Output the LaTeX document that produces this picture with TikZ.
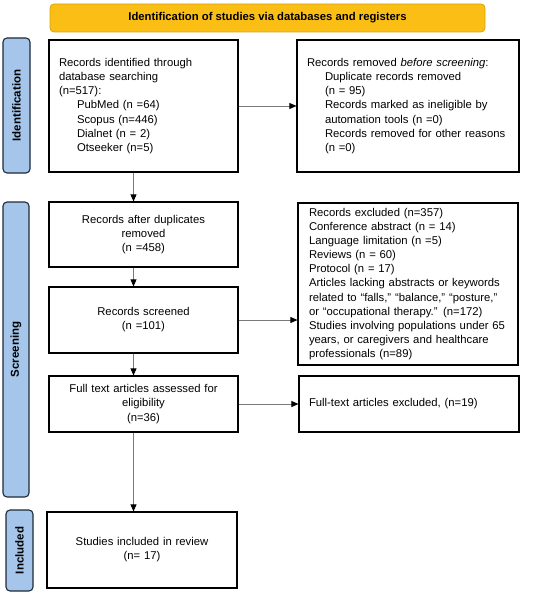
\documentclass[tikz,border=0pt]{standalone}
\usepackage{fontspec}
\setmainfont{Liberation Sans}
\usetikzlibrary{arrows.meta,calc}
\definecolor{bannerfill}{HTML}{FABE14}
\definecolor{bannerdraw}{HTML}{D9A210}
\definecolor{sidefill}{HTML}{A5C5EA}
\definecolor{sidedraw}{HTML}{1E2A38}
\definecolor{linegray}{HTML}{7A7A7A}
\begin{document}
\begin{tikzpicture}[x=1pt,y=1pt,
  box/.style={draw=black, line width=1.2pt, inner sep=0pt, font=\fontsize{11.3}{14.1}\selectfont},
  leftbox/.style={box, align=left},
  centerbox/.style={box, align=center},
  side/.style={draw=sidedraw, fill=sidefill, line width=1.1pt, rounded corners=4pt, inner sep=0pt},
  sidetext/.style={rotate=90, font=\bfseries\fontsize{11.5}{13}\selectfont},
  banner/.style={draw=bannerdraw, fill=bannerfill, line width=0.8pt, rounded corners=4pt, inner sep=0pt,
               font=\bfseries\fontsize{11.3}{13}\selectfont},
  arr/.style={draw=linegray, line width=0.7pt, -{Triangle[length=7pt,width=6pt,color=black]}}
]
\useasboundingbox (0,0) rectangle (550,-596);

% banner
\node[banner, minimum width=435pt, minimum height=28pt] (banner) at (267.5,-18)
  {Identification of studies via databases and registers};

% side labels
\node[side, minimum width=27pt, minimum height=135pt] (sideid) at (16.5,-105.5) {};
\node[sidetext] (sideidt) at (sideid.center) {Identification};
\node[side, minimum width=26pt, minimum height=295pt] (sidescr) at (16,-349.5) {};
\node[sidetext] (sidescrt) at (sidescr.center) {Screening};
\node[side, minimum width=27pt, minimum height=81pt] (sideinc) at (19.5,-550.5) {};
\node[sidetext] (sideinct) at (sideinc.center) {Included};

% boxes
\node[leftbox, minimum width=189pt, minimum height=132pt, text width=169pt] (ident) at (143.5,-106)
  {Records identified through\\
   database searching\\
   (n=517):\\
   \hspace*{18pt}PubMed (n =64)\\
   \hspace*{18pt}Scopus (n=446)\\
   \hspace*{18pt}Dialnet (n = 2)\\
   \hspace*{18pt}Otseeker (n=5)};

\node[leftbox, minimum width=222pt, minimum height=132pt, text width=202pt] (removed) at (408,-106)
  {Records removed \textit{before screening}:\\
   \hspace*{18pt}Duplicate records removed\\
   \hspace*{18pt}(n = 95)\\
   \hspace*{18pt}Records marked as ineligible by\\
   \hspace*{18pt}automation tools (n =0)\\
   \hspace*{18pt}Records removed for other reasons\\
   \hspace*{18pt}(n =0)};

\node[centerbox, minimum width=189pt, minimum height=65pt, text width=169pt] (afterdup) at (143.5,-234.5)
  {Records after duplicates\\ removed\\ (n =458)};

\node[centerbox, minimum width=189pt, minimum height=66pt, text width=169pt] (screened) at (143.5,-320)
  {Records screened\\ (n =101)};

\node[leftbox, minimum width=220pt, minimum height=162pt, text width=198pt] (excluded) at (408,-284)
  {Records excluded (n=357)\\
   Conference abstract (n = 14)\\
   Language limitation (n =5)\\
   Reviews (n = 60)\\
   Protocol (n = 17)\\
   Articles lacking abstracts or keywords\\
   related to “falls,” “balance,” “posture,”\\
   or “occupational therapy.” (n=172)\\
   Studies involving populations under 65\\
   years, or caregivers and healthcare\\
   professionals (n=89)};

\node[centerbox, minimum width=189pt, minimum height=56pt, text width=169pt] (fulltext) at (143.5,-404)
  {Full text articles assessed for\\ eligibility\\ (n=36)};

\node[leftbox, minimum width=220pt, minimum height=56pt, text width=200pt] (ftexcl) at (409,-404)
  {Full-text articles excluded, (n=19)};

\node[centerbox, minimum width=190pt, minimum height=76pt, text width=170pt] (included) at (142,-550)
  {Studies included in review\\ (n= 17)\\[11pt]};

% connectors
\coordinate (ax) at (133.5,0);
\draw[arr] (ident.east) -- (removed.west);
\draw[arr] (ident.south -| ax) -- (afterdup.north -| ax);
\draw[arr] (afterdup.south -| ax) -- (screened.north -| ax);
\draw[arr] (screened.east) -- (screened.east -| excluded.west);
\draw[arr] (screened.south -| ax) -- (fulltext.north -| ax);
\draw[arr] (fulltext.east) -- (ftexcl.west);
\draw[arr] (fulltext.south -| ax) -- (included.north -| ax);
\end{tikzpicture}
\end{document}
